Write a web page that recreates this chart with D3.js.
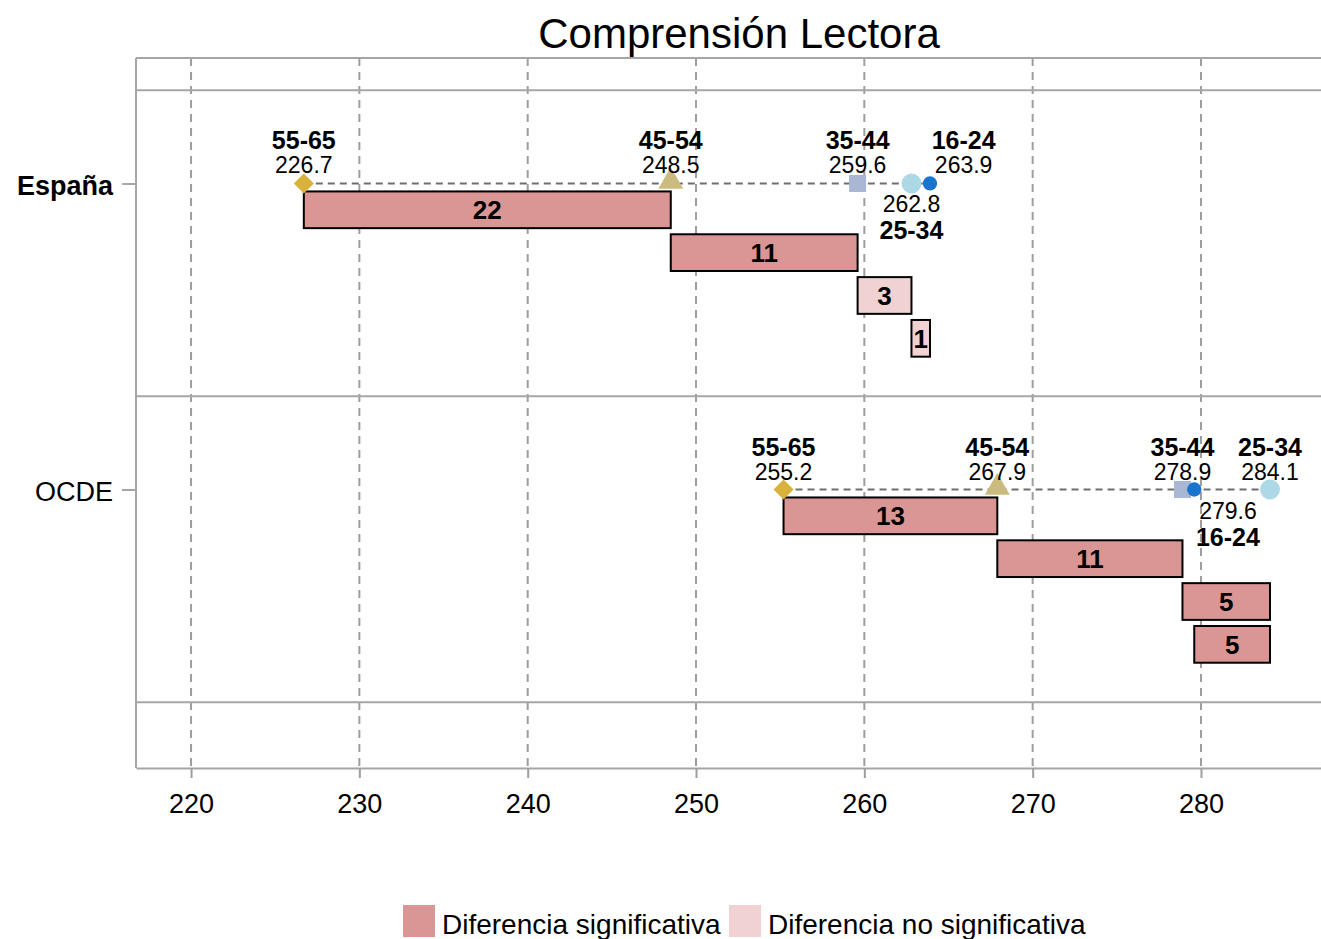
<!DOCTYPE html>
<html>
<head>
<meta charset="utf-8">
<script src="https://cdn.jsdelivr.net/npm/d3@7"></script>
<style>
  html, body { margin: 0; padding: 0; background: #ffffff; }
  svg { display: block; font-family: "Liberation Sans", Arial, Helvetica, sans-serif; }
</style>
</head>
<body>
<svg id="chart" width="1321" height="939"></svg>
<script>
// ---------------- DATA ----------------
const title = "Comprensión Lectora";
const categories = ["España", "OCDE"];
const ageGroups = ["55-65", "45-54", "35-44", "25-34", "16-24"];
const spainScores = [226.7, 248.5, 259.6, 262.8, 263.9];
const oecdScores = [255.2, 267.9, 278.9, 284.1, 279.6];
// differences between consecutive age groups (older -> younger)
const spainDiffs = [22, 11, 3, 1];
const oecdDiffs = [13, 11, 5, 5];
const spainSignificant = [true, true, false, false];
const oecdSignificant = [true, true, true, true];
// label placement (above/below the marker) and nudge along the x axis (score units)
const spainLabelSide = ["above", "above", "above", "below", "above"];
const spainLabelNudge = [0, 0, 0, 0, 2];
const oecdLabelSide = ["above", "above", "above", "above", "below"];
const oecdLabelNudge = [0, 0, 0, 0, 2];
const xTicks = [220, 230, 240, 250, 260, 270, 280];
const legendLabels = ["Diferencia significativa", "Diferencia no significativa"];
const boldCategory = "España";

// ---------------- SETUP ----------------
const svg = d3.select("#chart");
const W = 1321, H = 939;
const plot = { left: 136, right: 1321, top: 58, bottom: 768 };

const x = d3.scaleLinear().domain([216.73, 287.13]).range([plot.left, plot.right]);
// y in "row" units: category i sits at i
const y = d3.scaleLinear().domain([-0.41, 1.91]).range([plot.top, plot.bottom]);

const FONT = '"Liberation Sans", Arial, Helvetica, sans-serif';
const gridColor = "#a6a6a6";

const markerColors = ["#d9b23b", "#ccbb7e", "#a9b7d4", "#add8e6", "#1874cd"];
const markerTypes = [d3.symbolSquare, d3.symbolTriangle, d3.symbolSquare, d3.symbolCircle, d3.symbolCircle];
const markerSizes = [200, 270, 290, 310, 160];
const markerRotate = [45, 0, 0, 0, 0];
const sigColor = "#d99694", nonSigColor = "#f0d2d2";

const rows = [
  { cat: categories[0], scores: spainScores, diffs: spainDiffs, sig: spainSignificant, side: spainLabelSide, nudge: spainLabelNudge },
  { cat: categories[1], scores: oecdScores, diffs: oecdDiffs, sig: oecdSignificant, side: oecdLabelSide, nudge: oecdLabelNudge }
];

// ---------------- TITLE ----------------
svg.append("text")
  .attr("x", 739).attr("y", 48)
  .attr("text-anchor", "middle")
  .attr("font-size", 42).attr("fill", "#000")
  .text(title);

// ---------------- GRID ----------------
const g = svg.append("g");

// vertical dashed grid
g.selectAll("line.vgrid").data(xTicks).enter().append("line")
  .attr("class", "vgrid")
  .attr("x1", d => x(d)).attr("x2", d => x(d))
  .attr("y1", plot.top).attr("y2", plot.bottom)
  .attr("stroke", "#9e9e9e").attr("stroke-width", 2)
  .attr("stroke-dasharray", "8,6");

// horizontal separators between categories
const separators = [-0.305, 0.695, 1.695];
g.selectAll("line.hgrid").data(separators).enter().append("line")
  .attr("class", "hgrid")
  .attr("x1", plot.left).attr("x2", W)
  .attr("y1", d => y(d)).attr("y2", d => y(d))
  .attr("stroke", gridColor).attr("stroke-width", 2);

// frame (top, left)
g.append("line").attr("x1", plot.left).attr("x2", W).attr("y1", plot.top).attr("y2", plot.top)
  .attr("stroke", gridColor).attr("stroke-width", 2);
g.append("line").attr("x1", plot.left).attr("x2", plot.left).attr("y1", plot.top).attr("y2", plot.bottom)
  .attr("stroke", gridColor).attr("stroke-width", 2);

// ---------------- AXES ----------------
const xAxis = d3.axisBottom(x).tickValues(xTicks).tickSize(10).tickSizeOuter(0).tickPadding(16).tickFormat(d3.format("d"));
const xg = svg.append("g").attr("transform", `translate(0,${plot.bottom})`).call(xAxis);
xg.select(".domain").attr("stroke", gridColor).attr("stroke-width", 2);
xg.selectAll(".tick line").attr("stroke", "#9e9e9e").attr("stroke-width", 2);
xg.selectAll(".tick text").attr("font-size", 27).attr("font-family", FONT).attr("fill", "#000")
  .attr("dy", "0.71em");

const yBand = d3.scaleOrdinal().domain(categories).range(categories.map((c, i) => y(i)));
const yAxis = d3.axisLeft(yBand).tickSize(14).tickPadding(9);
const yg = svg.append("g").attr("transform", `translate(${plot.left},0)`).call(yAxis);
yg.select(".domain").remove();
yg.selectAll(".tick line").attr("stroke", gridColor).attr("stroke-width", 2);
yg.selectAll(".tick text").attr("font-size", 27).attr("font-family", FONT).attr("fill", "#000")
  .attr("font-weight", d => d === boldCategory ? "bold" : "normal")
  .attr("dy", "0.4em");

// ---------------- DATA MARKS ----------------
const barOffset0 = 0.026, barStep = 0.14, barH = 0.12;

rows.forEach((r, ci) => {
  const layer = svg.append("g");
  const cy = y(ci);

  // connecting dashed line
  layer.append("line")
    .attr("x1", x(d3.min(r.scores))).attr("x2", x(d3.max(r.scores)))
    .attr("y1", cy).attr("y2", cy)
    .attr("stroke", "#6e6e6e").attr("stroke-width", 2)
    .attr("stroke-dasharray", "7,5");

  // bars
  const bars = r.diffs.map((d, k) => ({
    x0: Math.min(r.scores[k], r.scores[k + 1]),
    x1: Math.max(r.scores[k], r.scores[k + 1]),
    label: d, sig: r.sig[k], k: k
  }));
  layer.selectAll("rect.bar").data(bars).enter().append("rect")
    .attr("class", "bar")
    .attr("x", d => x(d.x0))
    .attr("width", d => x(d.x1) - x(d.x0))
    .attr("y", d => y(ci + barOffset0 + barStep * d.k))
    .attr("height", d => y(ci + barOffset0 + barStep * d.k + barH) - y(ci + barOffset0 + barStep * d.k))
    .attr("fill", d => d.sig ? sigColor : nonSigColor)
    .attr("stroke", "#000").attr("stroke-width", 2);
  layer.selectAll("text.barlabel").data(bars).enter().append("text")
    .attr("class", "barlabel")
    .attr("x", d => (x(d.x0) + x(d.x1)) / 2)
    .attr("y", d => y(ci + barOffset0 + barStep * d.k + barH / 2))
    .attr("dy", "0.36em")
    .attr("text-anchor", "middle")
    .attr("font-size", 26).attr("font-weight", "bold").attr("fill", "#000")
    .text(d => d.label);

  // markers
  const pts = r.scores.map((s, k) => ({ s, k }));
  layer.selectAll("path.marker").data(pts).enter().append("path")
    .attr("class", "marker")
    .attr("d", d => d3.symbol().type(markerTypes[d.k]).size(markerSizes[d.k])())
    .attr("transform", d => `translate(${x(d.s)},${cy + (d.k === 1 ? -2 : 0)}) rotate(${markerRotate[d.k]})`)
    .attr("fill", d => markerColors[d.k]);

  // labels
  pts.forEach(d => {
    const lx = x(d.s + r.nudge[d.k]);
    const above = r.side[d.k] === "above";
    layer.append("text")
      .attr("x", lx).attr("y", above ? cy - 34 : cy + 56)
      .attr("text-anchor", "middle")
      .attr("font-size", 25).attr("font-weight", "bold").attr("fill", "#000")
      .text(ageGroups[d.k]);
    layer.append("text")
      .attr("x", lx).attr("y", above ? cy - 10 : cy + 29)
      .attr("text-anchor", "middle")
      .attr("font-size", 23).attr("fill", "#000")
      .text(d.s.toFixed(1));
  });
});

// ---------------- LEGEND ----------------
const legend = svg.append("g").attr("transform", "translate(403,905)");
const legendColors = [sigColor, nonSigColor];
const legendX = [0, 326];
legendLabels.forEach((lab, i) => {
  legend.append("rect").attr("x", legendX[i]).attr("y", 0).attr("width", 32).attr("height", 32)
    .attr("fill", legendColors[i]);
  legend.append("text").attr("x", legendX[i] + 39).attr("y", 29)
    .attr("font-size", 28).attr("fill", "#000").text(lab);
});
</script>
</body>
</html>
